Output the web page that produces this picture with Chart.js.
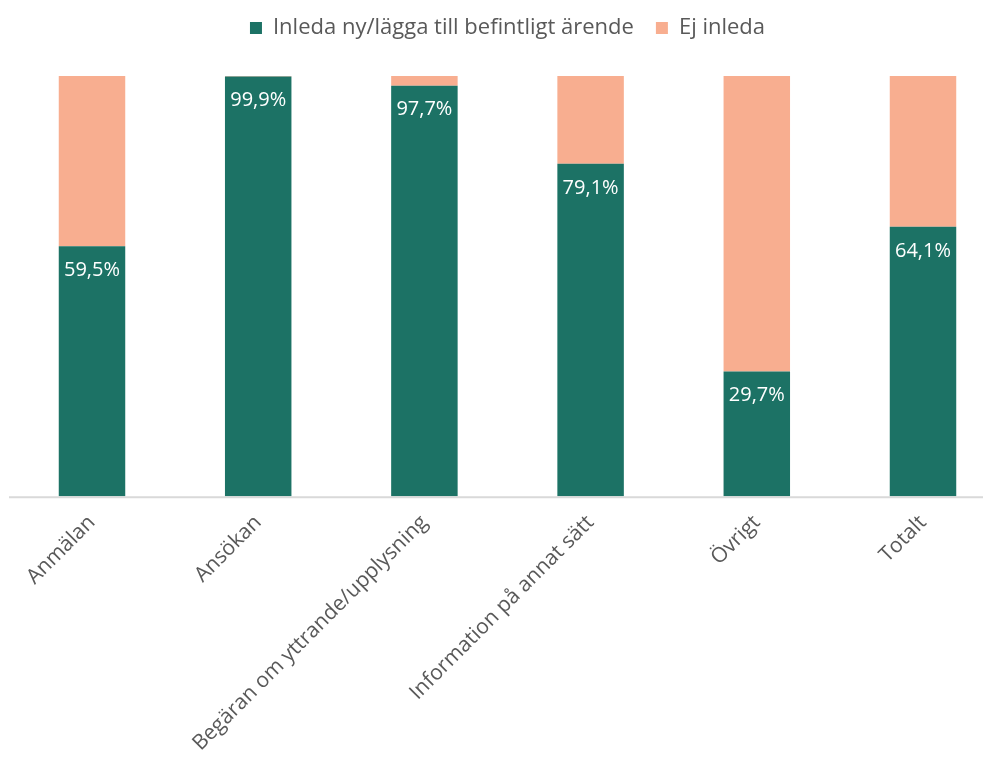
<!DOCTYPE html>
<html>
<head>
<meta charset="utf-8">
<script src="https://cdn.jsdelivr.net/npm/chart.js@4.4.1/dist/chart.umd.min.js"></script>
<style>
    html, body { margin: 0; padding: 0; background: #ffffff; }
    #wrap { width: 993px; height: 763px; position: relative; }
</style>
</head>
<body>
<div id="wrap"><canvas id="stackChart"></canvas></div>
<script>
// Kategorier och andelar (%)
const categories = ['Anmälan', 'Ansökan', 'Begäran om yttrande/upplysning', 'Information på annat sätt', 'Övrigt', 'Totalt'];
const inledaValues = [59.5, 99.9, 97.7, 79.1, 29.7, 64.1];
const ejInledaValues = [40.5, 0.1, 2.3, 20.9, 70.3, 35.9];
const seriesNames = ['Inleda ny/lägga till befintligt ärende', 'Ej inleda'];

const green = '#1c7265';
const salmon = '#f8ae90';
const textGrey = '#595959';
const fontFamily = '"Open Sans", "Noto Sans", sans-serif';

// Extra luft under legenden
const legendGap = {
    id: 'legendGap',
    beforeInit(chart) {
        const origFit = chart.legend.fit;
        chart.legend.fit = function () {
            origFit.bind(chart.legend)();
            this.height += 27;
        };
    }
};

// Procentetiketter i de gröna staplarna
const barLabels = {
    id: 'barLabels',
    afterDatasetsDraw(chart) {
        const ctx = chart.ctx;
        const meta = chart.getDatasetMeta(0);
        ctx.save();
        ctx.fillStyle = '#ffffff';
        ctx.font = '20px ' + fontFamily;
        ctx.textAlign = 'center';
        ctx.textBaseline = 'middle';
        meta.data.forEach((bar, i) => {
            const txt = inledaValues[i].toFixed(1).replace('.', ',') + '%';
            ctx.fillText(txt, bar.x, bar.y + 24);
        });
        ctx.restore();
    }
};

// Horisontell axellinje över hela bredden
const baseLine = {
    id: 'baseLine',
    afterDatasetsDraw(chart) {
        const ctx = chart.ctx;
        const y = chart.chartArea.bottom;
        ctx.save();
        ctx.strokeStyle = '#d9d9d9';
        ctx.lineWidth = 2;
        ctx.beginPath();
        ctx.moveTo(9, y + 1);
        ctx.lineTo(chart.width - 10, y + 1);
        ctx.stroke();
        ctx.restore();
    }
};

function initChart() {
    const ctx = document.getElementById('stackChart').getContext('2d');
    new Chart(ctx, {
        type: 'bar',
        data: {
            labels: categories,
            datasets: [{
                label: seriesNames[0],
                data: inledaValues,
                backgroundColor: green,
                barPercentage: 0.8,
                categoryPercentage: 0.5,
                clip: false
            }, {
                label: seriesNames[1],
                data: ejInledaValues,
                backgroundColor: salmon,
                barPercentage: 0.8,
                categoryPercentage: 0.5,
                clip: false
            }]
        },
        options: {
            responsive: true,
            maintainAspectRatio: false,
            animation: false,
            layout: {
                padding: { left: 92, right: 70, top: -5, bottom: 1 }
            },
            scales: {
                x: {
                    stacked: true,
                    offset: false,
                    grid: { display: false },
                    border: { display: false },
                    ticks: {
                        color: textGrey,
                        font: { family: fontFamily, size: 21 },
                        minRotation: 45,
                        maxRotation: 45,
                        autoSkip: false,
                        padding: 6
                    }
                },
                y: {
                    stacked: true,
                    display: false,
                    min: 0,
                    max: 100
                }
            },
            plugins: {
                tooltip: { enabled: false },
                legend: {
                    position: 'top',
                    labels: {
                        color: textGrey,
                        font: { family: fontFamily, size: 22 },
                        boxWidth: 12,
                        boxHeight: 12,
                        padding: 22
                    }
                }
            }
        },
        plugins: [legendGap, barLabels, baseLine]
    });
}

window.addEventListener('DOMContentLoaded', initChart);
</script>
</body>
</html>
